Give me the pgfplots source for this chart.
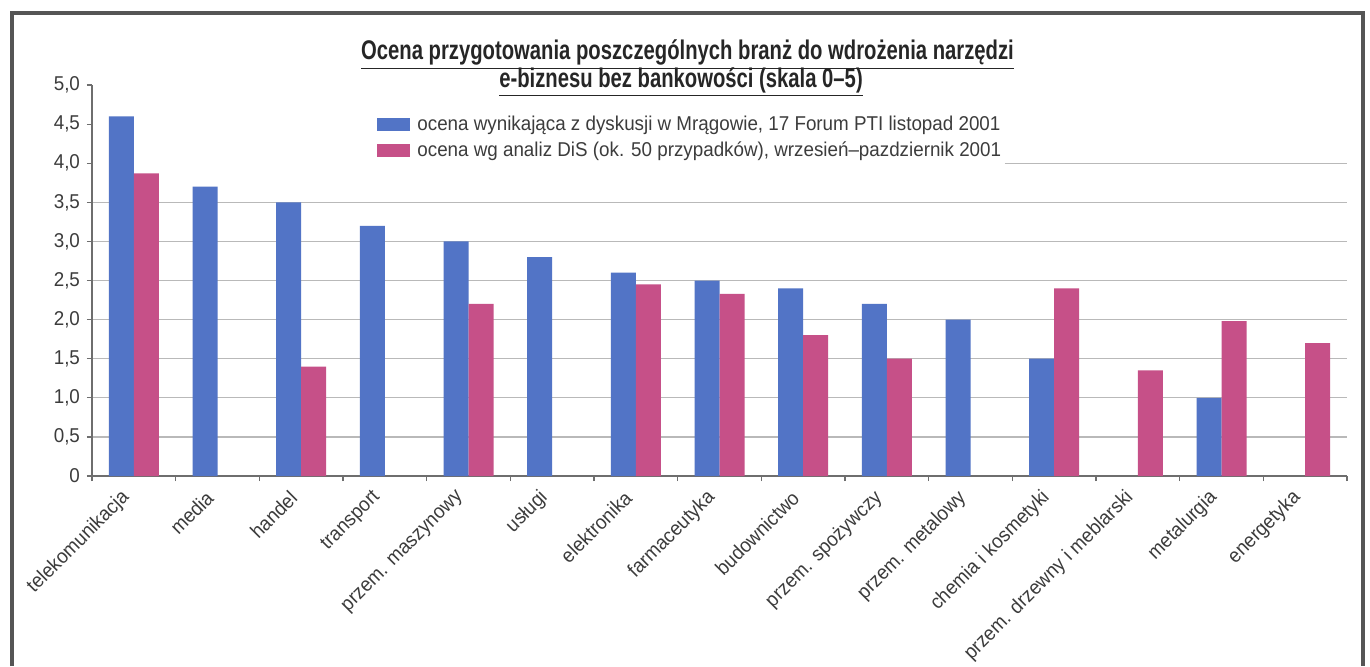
\documentclass[border=0pt]{standalone}
\usepackage{pgfplots}
\pgfplotsset{compat=1.18}
\usepackage{fontspec}
\setmainfont{Liberation Sans}[FakeStretch=0.94]
\newfontfamily\titlefont{Liberation Sans Bold}[FakeStretch=0.75]
\definecolor{barblue}{RGB}{82,116,198}
\definecolor{barpink}{RGB}{198,80,136}
\definecolor{txt}{RGB}{60,60,60}
\definecolor{gridc}{RGB}{185,185,185}
\definecolor{axc}{RGB}{110,110,110}
\definecolor{framec}{RGB}{85,85,85}
\begin{document}
\begin{tikzpicture}
\path[use as bounding box] (0,0) rectangle (685pt,333pt);
\fill[white] (0,0) rectangle (685pt,333pt);
\draw[framec, line width=2pt] (6pt,0) -- (6pt,326.5pt) -- (681.5pt,326.5pt) -- (681.5pt,0);
\node[anchor=base, font=\titlefont\fontsize{13.5}{15}\selectfont, text=black!85] at (343.75pt,303.3pt) {\underline{Ocena przygotowania poszczególnych branż do wdrożenia narzędzi}};
\node[anchor=base, font=\titlefont\fontsize{13.5}{15}\selectfont, text=black!85] at (340.5pt,289.5pt) {\underline{e-biznesu bez bankowości (skala 0–5)}};
\begin{axis}[
  at={(46pt,95pt)}, anchor=south west,
  width=627.5pt, height=195.5pt, scale only axis,
  xmin=-0.5, xmax=14.5, ymin=0, ymax=5,
  ybar=0pt, bar width=12.5pt,
  axis lines*=left,
  axis line style={axc, line width=0.6pt},
  tick align=outside,
  major tick length=2.5pt, minor tick length=2.5pt,
  tick style={axc, line width=0.6pt},
  xtick={0,...,14},
  xticklabels={telekomunikacja, media, handel, transport, przem. maszynowy, usługi, elektronika, farmaceutyka, budownictwo, przem. spożywczy, przem. metalowy, chemia i kosmetyki, przem. drzewny i meblarski, metalurgia, energetyka},
  major x tick style={draw=none},
  minor xtick={-0.5,0.5,...,14.5},
  xticklabel style={xshift=-3pt, yshift=-6pt, rotate=45, anchor=east, inner sep=1pt},
  ytick={0,0.5,...,3.5},
  yticklabels={0,{0,5},{1,0},{1,5},{2,0},{2,5},{3,0},{3,5}},
  extra y ticks={4,4.5,5},
  extra y tick labels={{4,0},{4,5},{5,0}},
  extra y tick style={grid=none},
  ymajorgrids, grid style={gridc, line width=0.6pt},
  ticklabel style={font=\fontsize{10}{12}\selectfont, text=txt},
  legend style={at={(0.2271,0.931)}, anchor=north west, draw=none, fill=none,
    inner sep=0pt, row sep=0pt, font=\fontsize{10}{12}\selectfont, text=txt,
    nodes={inner sep=2pt}},
  legend cell align=left,
  legend image code/.code={\fill[#1] (0pt,-3pt) rectangle (16.5pt,3.5pt);},
]
\addplot[fill=barblue, draw=none] coordinates {(0,4.6) (1,3.7) (2,3.5) (3,3.2) (4,3.0) (5,2.8) (6,2.6) (7,2.5) (8,2.4) (9,2.2) (10,2.0) (11,1.5) (13,1.0)};
\addlegendentry{\hspace{1.5pt}ocena wynikająca z dyskusji w Mrągowie, 17 Forum PTI listopad 2001}
\addplot[fill=barpink, draw=none] coordinates {(0,3.87) (2,1.4) (4,2.2) (6,2.45) (7,2.33) (8,1.8) (9,1.5) (11,2.4) (12,1.35) (13,1.98) (14,1.7)};
\addlegendentry{\hspace{1.5pt}ocena wg analiz DiS (ok. 50 przypadków), wrzesień–pazdziernik 2001}
\draw[gridc, line width=0.6pt] (axis cs:10.41,4) -- (axis cs:14.5,4);
\end{axis}
\end{tikzpicture}
\end{document}
